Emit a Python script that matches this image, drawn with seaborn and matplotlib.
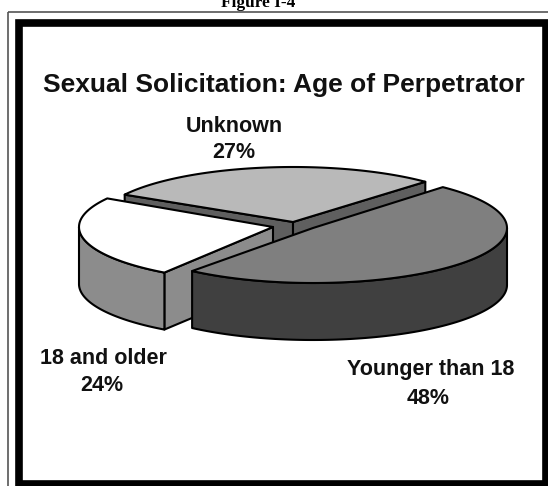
import numpy as np
import matplotlib
matplotlib.use("Agg")
import matplotlib.pyplot as plt
from matplotlib.patches import Polygon, Rectangle
import seaborn as sns

# Data
categories = ["Younger than 18", "18 and older", "Unknown"]
values = [48, 24, 27]
title = "Sexual Solicitation: Age of Perpetrator"
caption = "Figure I-4"

# Styling
top_colors = ["#7f7f7f", "#ffffff", "#b9b9b9"]
side_colors = ["#404040", "#8c8c8c", "#5f5f5f"]
centers = [(313, 228), (273, 227), (293, 222)]
# small per-slice angular nudges (start, end) for the drawing's hand-tilted perspective
nudges = [(1.0, -1.0), (3.5, 3.5), (5.0, 0.0)]
A, B, H = 194, 55, 57
START = 47.0

sns.set_theme(style="white")
plt.rcParams["font.family"] = ["Liberation Sans", "DejaVu Sans"]

fig = plt.figure(figsize=(5.48, 4.86), dpi=100)
ax = fig.add_axes([0, 0, 1, 1])
ax.set_xlim(0, 548)
ax.set_ylim(486, 0)
ax.axis("off")

# Slice angle ranges from the values (clockwise from START)
sweeps = np.array(values) / np.sum(values) * 360
t0 = START - np.concatenate([[0], np.cumsum(sweeps)[:-1]])
t1 = t0 - sweeps
t0 = t0 + np.array([n[0] for n in nudges])
t1 = t1 + np.array([n[1] for n in nudges])


def arc(c, a, b):
    t = np.radians(np.linspace(a, b, 120))
    return np.column_stack([c[0] + A * np.cos(t), c[1] - B * np.sin(t)])


def pt(c, a):
    return arc(c, a, a)[0]


def poly(pts, color, z):
    ax.add_patch(Polygon(pts, closed=True, fc=color, ec="black", lw=1.5,
                         joinstyle="round", zorder=z))


def face(p, q, color, z):
    d = np.array([0, H])
    poly([p, q, q + d, p + d], color, z)


def wall(c, a, b, color, z):
    """Visible front wall between angles a > b, restricted to the lower half."""
    for k in (0, -360):
        hi_a, lo_b = min(a, k), max(b, k - 180)
        if hi_a > lo_b:
            pts = arc(c, hi_a, lo_b)
            poly(np.vstack([pts, pts[::-1] + [0, H]]), color, z)


# Unknown (back)
c = centers[2]
apex = np.array(c, float)
face(apex, pt(c, t0[2]), side_colors[2], 1)
face(apex, pt(c, t1[2]), side_colors[2], 1)
poly(np.vstack([[apex], arc(c, t0[2], t1[2])]), top_colors[2], 2)

# 18 and older (left)
c = centers[1]
apex = np.array(c, float)
face(apex, pt(c, t0[1]), side_colors[1], 3)
wall(c, t0[1], t1[1], side_colors[1], 3)
poly(np.vstack([[apex], arc(c, t0[1], t1[1])]), top_colors[1], 4)

# Younger than 18 (front)
c = centers[0]
wall(c, t0[0], t1[0], side_colors[0], 5)
poly(np.vstack([[c], arc(c, t0[0], t1[0])]), top_colors[0], 6)

# Frames
ax.add_patch(Rectangle((7.5, 12), 560, 500, fc="none", ec="#555555", lw=1.2, zorder=8))
ax.add_patch(Rectangle((19, 23.5), 527, 460, fc="none", ec="black", lw=5.5, zorder=8))

# Text
ax.text(258, -5, caption, ha="center", va="top", fontsize=12.5, fontweight="bold",
        family="Liberation Serif", color="black", zorder=9)
ax.text(284, 85, title, ha="center", va="center", fontsize=19, fontweight="bold", color="#111111", zorder=9)
lab = dict(ha="center", va="center", fontsize=15.5, fontweight="bold", color="#111111", zorder=9)
ax.text(234, 126, categories[2], **lab)
ax.text(234, 152, f"{values[2]}%", **lab)
ax.text(431, 369, categories[0], **lab)
ax.text(428, 398, f"{values[0]}%", **lab)
ax.text(103, 358, categories[1], **lab)
ax.text(102, 385, f"{values[1]}%", **lab)

fig.savefig("out.png", dpi=100, facecolor="white")
